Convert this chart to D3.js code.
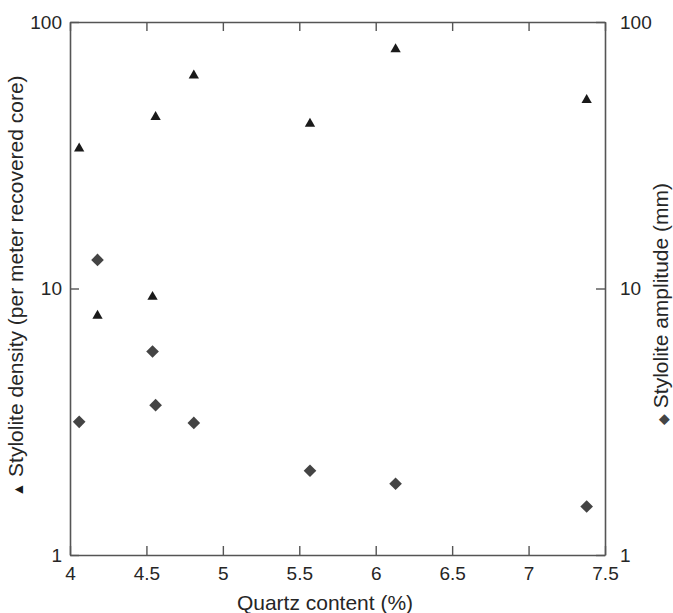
<!DOCTYPE html>
<html>
<head>
<meta charset="utf-8">
<script src="https://cdn.jsdelivr.net/npm/d3@7"></script>
<style>
  body { margin: 0; background: #fff; }
  text { font-family: "Liberation Sans", Arial, Helvetica, sans-serif; fill: #262626; }
</style>
</head>
<body>
<svg id="chart" width="673" height="613"></svg>
<script>
// quartz content (%) for each sample
const quartz = [4.06, 4.18, 4.54, 4.56, 4.81, 5.57, 6.13, 7.38];
// stylolite density (per meter recovered core) - triangles, left axis
const density = [33.5, 7.9, 9.3, 44, 63, 41.5, 79, 51];
// stylolite amplitude (mm) - diamonds, right axis
const amplitude = [3.16, 12.8, 5.8, 3.65, 3.13, 2.07, 1.85, 1.52];

const xTicks = [4, 4.5, 5, 5.5, 6, 6.5, 7, 7.5];
const yTicks = [1, 10, 100];

const width = 673, height = 613;
const margin = {top: 22, right: 68, bottom: 58, left: 70};
const innerWidth = width - margin.left - margin.right;
const innerHeight = height - margin.top - margin.bottom;

const svg = d3.select("#chart");
const g = svg.append("g").attr("transform", `translate(${margin.left},${margin.top})`);

const xScale = d3.scaleLinear().domain([4, 7.5]).range([0, innerWidth]);
const yLeft = d3.scaleLog().domain([1, 100]).range([innerHeight, 0]);
const yRight = d3.scaleLog().domain([1, 100]).range([innerHeight, 0]);

const axisColor = "#555";
const fmt = d => String(d);

// axes, ticks pointing inward like matlab
const bottomAxis = g.append("g").attr("transform", `translate(0,${innerHeight})`)
  .call(d3.axisBottom(xScale).tickValues(xTicks).tickFormat(fmt).tickSizeInner(-9).tickSizeOuter(0).tickPadding(12));
const topAxis = g.append("g")
  .call(d3.axisTop(xScale).tickValues(xTicks).tickFormat("").tickSizeInner(-9).tickSizeOuter(0));
const leftAxis = g.append("g")
  .call(d3.axisLeft(yLeft).tickValues(yTicks).tickFormat(fmt).tickSizeInner(-9).tickSizeOuter(0).tickPadding(8));
const rightAxis = g.append("g").attr("transform", `translate(${innerWidth},0)`)
  .call(d3.axisRight(yRight).tickValues(yTicks).tickFormat(fmt).tickSizeInner(-9).tickSizeOuter(0).tickPadding(15));

[bottomAxis, topAxis, leftAxis, rightAxis].forEach(a => {
  a.select(".domain").attr("stroke", axisColor).attr("stroke-width", 1.6);
  a.selectAll(".tick line").attr("stroke", axisColor).attr("stroke-width", 1.4);
  a.selectAll(".tick text").attr("font-size", 19).attr("fill", "#262626")
    .style("font-family", "'Liberation Sans', Arial, sans-serif");
});

const pts = quartz.map((q, i) => ({q, density: density[i], amplitude: amplitude[i]}));

// triangles
g.selectAll(".tri")
  .data(pts)
  .enter()
  .append("path")
  .attr("class", "tri")
  .attr("d", d3.symbol().type(d3.symbolTriangle).size(46))
  .attr("transform", d => `translate(${xScale(d.q)},${yLeft(d.density)})`)
  .attr("fill", "#1a1a1a");

// diamonds
g.selectAll(".dia")
  .data(pts)
  .enter()
  .append("path")
  .attr("class", "dia")
  .attr("d", d3.symbol().type(d3.symbolSquare).size(80))
  .attr("transform", d => `translate(${xScale(d.q)},${yRight(d.amplitude)}) rotate(45)`)
  .attr("fill", "#444");

// axis labels
svg.append("text")
  .attr("x", 325).attr("y", 610)
  .attr("text-anchor", "middle")
  .attr("font-size", 21)
  .text("Quartz content (%)");

const leftLabel = svg.append("text")
  .attr("transform", `translate(23,286) rotate(-90)`)
  .attr("text-anchor", "middle")
  .attr("font-size", 21);
leftLabel.append("tspan").attr("font-size", 14).attr("fill", "#1a1a1a").text("\u25B2");
leftLabel.append("tspan").text(" Stylolite density (per meter recovered core)");

const rightLabel = svg.append("text")
  .attr("transform", `translate(668,304) rotate(-90)`)
  .attr("text-anchor", "middle")
  .attr("font-size", 21);
rightLabel.append("tspan").attr("font-size", 14).attr("fill", "#444").text("\u25C6");
rightLabel.append("tspan").text(" Stylolite amplitude (mm)");
</script>
</body>
</html>
